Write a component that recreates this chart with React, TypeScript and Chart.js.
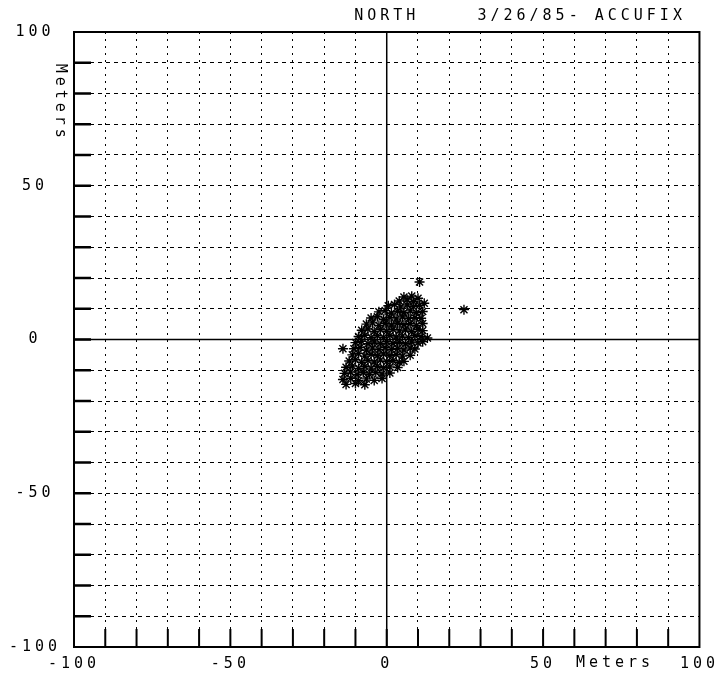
import { useEffect, useRef } from 'react';
import { Chart, registerables } from 'chart.js';

Chart.register(...registerables);

// ---- data ----
const AXIS_MIN = -100;
const AXIS_MAX = 100;
const GRID_STEP = 10;
const LABEL_STEP = 50;

const titleText = 'NORTH';
const runText = '3/26/85- ACCUFIX';
const unitText = 'Meters';

// position fixes (east, north) in metres, listed row by row through the cluster
const eastMeters = [
  5.5, 8, 10,
  4, 6.5, 8.5, 12,
  0.5, 2.5, 4.5, 6.5, 8.5, 10.5,
  -2.5, -0.5, 1.5, 3.5, 5.5, 7.5, 9.5, 11.5,
  -5, -3, -1, 1, 3, 5, 7, 9, 11,
  -6.5, -4.5, -2.5, -0.5, 1.5, 3.5, 5.5, 7.5, 9.5, 11.5,
  -8, -6, -4, -2, 0, 2, 4, 6, 8, 10, 11.5,
  -9, -7, -5, -3, -1, 1, 3, 5, 7, 9, 11,
  -10, -8, -6, -4, -2, 0, 2, 4, 6, 8, 10, 11.5,
  -10.5, -8.5, -6.5, -4.5, -2.5, -0.5, 1.5, 3.5, 5.5, 7.5, 9,
  -11, -9, -7, -5, -3, -1, 1, 3, 5, 7.5,
  -12, -10, -8, -6, -4, -2, 0, 2, 4, 5.5,
  -13, -11, -9, -7, -5, -3, -1, 1, 3.5,
  -13.5, -11.5, -9.5, -7.5, -5.5, -3.5, -1.5, 1,
  -14, -11.5, -9, -6.5, -4, -1.5,
  -13, -10, -7,
  10.5, 24.7, -14, 13,
];
const northMeters = [
  13.8, 14.1, 13.4,
  12.5, 12.9, 12.3, 11.8,
  11, 11.4, 10.6, 11.2, 10.7, 11.1,
  9, 9.4, 8.6, 9.2, 8.7, 9.3, 8.8, 9.1,
  7, 7.4, 6.6, 7.2, 6.7, 7.3, 6.8, 7.1, 6.9,
  5, 5.4, 4.6, 5.2, 4.7, 5.3, 4.8, 5.1, 4.6, 5.2,
  3, 3.4, 2.6, 3.2, 2.7, 3.3, 2.8, 3.1, 2.6, 3.2, 2.9,
  1, 1.4, 0.6, 1.2, 0.7, 1.3, 0.8, 1.1, 0.6, 1.2, 0.9,
  -1, -0.6, -1.4, -0.8, -1.3, -0.7, -1.2, -0.9, -1.4, -0.8, -1.1, -0.7,
  -3, -2.6, -3.4, -2.8, -3.3, -2.7, -3.2, -2.9, -3.4, -2.8, -3.1,
  -5, -4.6, -5.4, -4.8, -5.3, -4.7, -5.2, -4.9, -5.4, -5.1,
  -7, -6.6, -7.4, -6.8, -7.3, -6.7, -7.2, -6.9, -7.4, -7.1,
  -9, -8.6, -9.4, -8.8, -9.3, -8.7, -9.2, -8.9, -9.1,
  -11, -10.6, -11.4, -10.8, -11.3, -10.7, -11.2, -10.9,
  -13, -12.6, -13.4, -12.8, -13.3, -12.7,
  -14.6, -14.3, -14.7,
  18.7, 9.7, -3, 0.5,
];

const FONT_FAMILY = '"DejaVu Sans Mono", monospace';
const FONT_SIZE = 15;
const LETTER_SPACING = '4px';

const decorPlugin = {
  id: 'plotterDecor',
  beforeLayout(chart: any) {
    chart.ctx.letterSpacing = LETTER_SPACING;
  },
  beforeDraw(chart: any) {
    const ctx = chart.ctx;
    ctx.save();
    ctx.fillStyle = '#ffffff';
    ctx.fillRect(0, 0, chart.width, chart.height);
    ctx.restore();
    ctx.letterSpacing = LETTER_SPACING;
  },
  beforeDatasetsDraw(chart: any) {
    const { ctx, chartArea: a, scales } = chart;
    const xs = scales.x;
    const ys = scales.y;
    ctx.save();
    ctx.strokeStyle = '#000';
    ctx.setLineDash([]);
    // zero axes
    ctx.lineWidth = 1.5;
    const x0 = xs.getPixelForValue(0);
    const y0 = ys.getPixelForValue(0);
    ctx.beginPath();
    ctx.moveTo(x0, a.top);
    ctx.lineTo(x0, a.bottom);
    ctx.moveTo(a.left, y0);
    ctx.lineTo(a.right, y0);
    ctx.stroke();
    // inward tick marks on left and bottom edges
    ctx.lineWidth = 2.5;
    ctx.beginPath();
    for (let v = AXIS_MIN + GRID_STEP; v < AXIS_MAX; v += GRID_STEP) {
      const py = ys.getPixelForValue(v);
      ctx.moveTo(a.left, py);
      ctx.lineTo(a.left + 17, py);
    }
    ctx.stroke();
    ctx.lineWidth = 2;
    ctx.beginPath();
    for (let v = AXIS_MIN + GRID_STEP; v < AXIS_MAX; v += GRID_STEP) {
      const px = xs.getPixelForValue(v);
      ctx.moveTo(px, a.bottom);
      ctx.lineTo(px, a.bottom - 18);
    }
    ctx.stroke();
    // frame
    ctx.lineWidth = 2;
    ctx.strokeRect(a.left, a.top, a.right - a.left, a.bottom - a.top);
    ctx.restore();
  },
  afterDraw(chart: any) {
    const { ctx, chartArea: a, scales } = chart;
    const xs = scales.x;
    const ys = scales.y;
    ctx.save();
    ctx.letterSpacing = LETTER_SPACING;
    ctx.fillStyle = '#000';
    ctx.font = `${FONT_SIZE}px ${FONT_FAMILY}`;
    ctx.textBaseline = 'middle';
    ctx.textAlign = 'center';
    ctx.fillText(titleText, xs.getPixelForValue(0), 16);
    ctx.textAlign = 'left';
    ctx.fillText(runText, xs.getPixelForValue(29), 16);
    ctx.textAlign = 'center';
    ctx.fillText(unitText, xs.getPixelForValue(73), a.bottom + 16);
    ctx.translate(a.left - 14, ys.getPixelForValue(77));
    ctx.rotate(Math.PI / 2);
    ctx.fillText(unitText, 0, 0);
    ctx.restore();
  },
};

export default function App() {
  const canvasRef = useRef<HTMLCanvasElement | null>(null);

  useEffect(() => {
    document.body.style.margin = '0';
    const canvas = canvasRef.current;
    if (!canvas) return;
    const points = eastMeters.map((e, i) => ({ x: e, y: northMeters[i] }));
    const tickFont = { family: FONT_FAMILY, size: FONT_SIZE };
    const labelCb = (v: any) => (Number(v) % LABEL_STEP === 0 ? String(v) : '');
    const chart = new Chart(canvas, {
      type: 'scatter',
      data: {
        datasets: [
          {
            data: points,
            pointStyle: 'star',
            pointRadius: 5,
            pointBorderWidth: 1.4,
            borderColor: '#000',
            backgroundColor: '#000',
          },
        ],
      },
      options: {
        responsive: false,
        animation: false,
        events: [],
        layout: { padding: { top: 32, right: 22, left: 8, bottom: 7 } },
        plugins: {
          legend: { display: false },
          tooltip: { enabled: false },
          title: { display: false },
        },
        scales: {
          x: {
            type: 'linear',
            min: AXIS_MIN,
            max: AXIS_MAX,
            afterFit: (s: any) => {
              s.height = 28;
            },
            ticks: {
              stepSize: GRID_STEP,
              autoSkip: false,
              maxRotation: 0,
              padding: 8,
              color: '#000',
              font: tickFont,
              callback: labelCb,
            },
            grid: { color: '#000', lineWidth: 1, drawTicks: false },
            border: { display: false, dash: [2, 5] },
          },
          y: {
            type: 'linear',
            min: AXIS_MIN,
            max: AXIS_MAX,
            afterFit: (s: any) => {
              s.width = 66;
            },
            ticks: {
              stepSize: GRID_STEP,
              autoSkip: false,
              crossAlign: 'center',
              padding: 13,
              color: '#000',
              font: tickFont,
              callback: labelCb,
            },
            grid: { color: '#000', lineWidth: 1, drawTicks: false },
            border: { display: false, dash: [4, 4] },
          },
        },
      },
      plugins: [decorPlugin],
    } as any);
    return () => chart.destroy();
  }, []);

  return (
    <div style={{ width: 727, height: 682 }}>
      <canvas ref={canvasRef} width={727} height={682} />
    </div>
  );
}
